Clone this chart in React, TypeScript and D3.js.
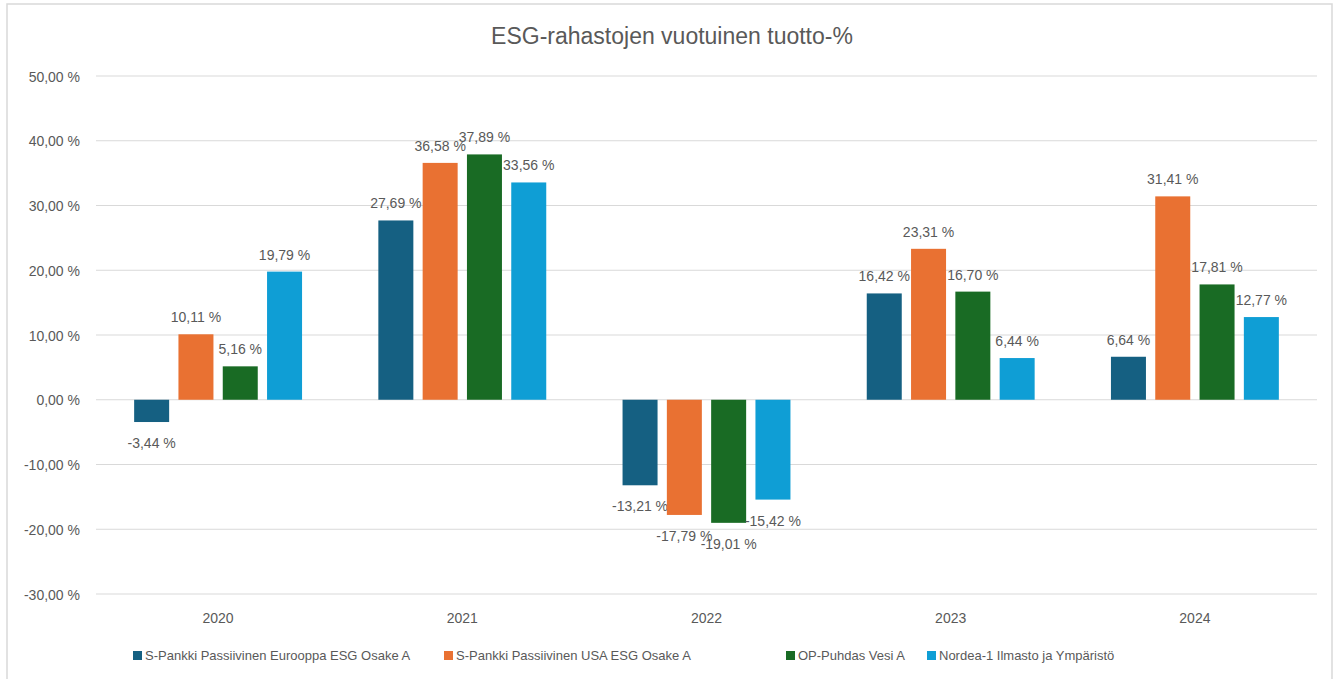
import React from "react";
import * as d3 from "d3";

const years = ["2020", "2021", "2022", "2023", "2024"];
const seriesNames = [
  "S-Pankki Passiivinen Eurooppa ESG Osake A",
  "S-Pankki Passiivinen USA ESG Osake A",
  "OP-Puhdas Vesi A",
  "Nordea-1 Ilmasto ja Ympäristö",
];
const europe = [-3.44, 27.69, -13.21, 16.42, 6.64];
const usa = [10.11, 36.58, -17.79, 23.31, 31.41];
const vesi = [5.16, 37.89, -19.01, 16.7, 17.81];
const nordea = [19.79, 33.56, -15.42, 6.44, 12.77];
const yTicks = [50, 40, 30, 20, 10, 0, -10, -20, -30];
const colors = ["#156082", "#E97132", "#196B24", "#0F9ED5"];

const W = 1342;
const H = 679;
const fmt = (v: number) => v.toFixed(2).replace(".", ",") + " %";

export default function App() {
  const series = [europe, usa, vesi, nordea];
  const left = 96, right = 1317;
  const y = d3.scaleLinear().domain([-30, 50]).range([594, 76]);
  const x0 = d3.scaleBand<string>().domain(years).range([left, right]).padding(0);
  const barW = 35;
  const step = 44.3;
  const font = "'Liberation Sans', Arial, sans-serif";
  const txt = "#595959";
  const legendX = [133, 444, 786, 927];
  return (
    <div style={{ position: "fixed", left: 0, top: 0, width: W, height: H, background: "#fff" }}>
      <svg width={W} height={H} style={{ display: "block", fontFamily: font }}>
        <rect x={7} y={4} width={1325} height={H + 10} fill="#fff" stroke="#d9d9d9" strokeWidth={1.5} />
        <text x={672} y={44} textAnchor="middle" fontSize={23} fill={txt}>
          ESG-rahastojen vuotuinen tuotto-%
        </text>
        {yTicks.map((t) => (
          <g key={t}>
            <line x1={left} x2={right} y1={y(t)} y2={y(t)} stroke="#d9d9d9" strokeWidth={1} />
            <text x={80} y={y(t) + 5.5} textAnchor="end" fontSize={14} fill={txt}>
              {fmt(t)}
            </text>
          </g>
        ))}
        {years.map((yr, i) => {
          const cx = (x0(yr) as number) + x0.bandwidth() / 2;
          return (
            <g key={yr}>
              {series.map((s, j) => {
                const v = s[i];
                const bx = cx + (j - 1.5) * step - barW / 2;
                const top = Math.min(y(v), y(0));
                const h = Math.abs(y(v) - y(0));
                const ly = v >= 0 ? y(v) - 12 : y(v) + 26;
                return (
                  <g key={j}>
                    <rect x={bx} y={top} width={barW} height={h} fill={colors[j]} />
                    <text x={bx + barW / 2} y={ly} textAnchor="middle" fontSize={14} fill={txt}>
                      {fmt(v)}
                    </text>
                  </g>
                );
              })}
              <text x={cx} y={623} textAnchor="middle" fontSize={14} fill={txt}>
                {yr}
              </text>
            </g>
          );
        })}
        {seriesNames.map((n, j) => (
          <g key={n}>
            <rect x={legendX[j]} y={651} width={9} height={9} fill={colors[j]} />
            <text x={legendX[j] + 12} y={660} fontSize={13} fill={txt}>
              {n}
            </text>
          </g>
        ))}
      </svg>
    </div>
  );
}
